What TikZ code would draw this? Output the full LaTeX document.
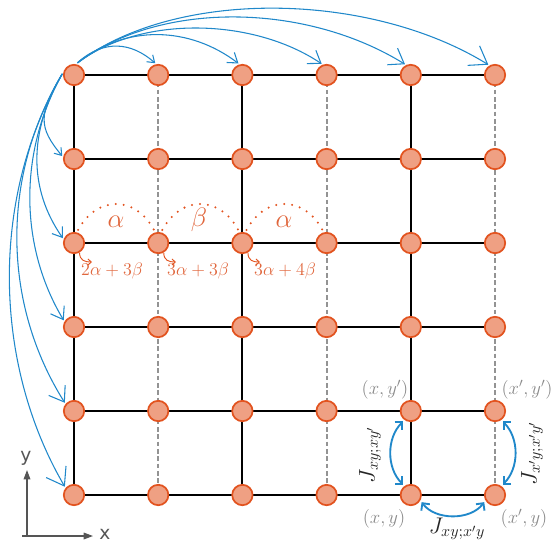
\RequirePackage{fix-cm}
\documentclass[tikz,border=0pt]{standalone}
\usepackage{fontspec}
\newfontfamily\axfont{DejaVu Sans}
\usetikzlibrary{arrows.meta,backgrounds}
\definecolor{nfill}{HTML}{EFA083}
\definecolor{ndraw}{HTML}{E2531F}
\definecolor{arcblue}{HTML}{2088CA}
\definecolor{dgray}{HTML}{939393}
\definecolor{lgray}{HTML}{8A8A8A}
\definecolor{otext}{HTML}{E0663C}
\definecolor{axgray}{HTML}{555555}
\begin{document}
\begin{tikzpicture}[x=0.75pt,y=-0.75pt,
  site/.style={circle, fill=nfill, draw=ndraw, line width=1.3pt, minimum size=15.3pt, inner sep=0pt},
  bond/.style={line width=1.5pt, black},
  dbond/.style={line width=1.6pt, dgray, dash pattern=on 3.5pt off 2pt},
  lr/.style={arcblue, line width=0.8pt, shorten <=1.5pt, shorten >=1pt},
  dotarc/.style={ndraw, line width=1.7pt, line cap=round, dash pattern=on 0pt off 6pt, shorten <=2pt, shorten >=2pt},
  smarr/.style={ndraw, line width=0.7pt, -{Straight Barb[length=2.5pt,width=4.5pt]}},
  ftext/.style={text=otext, font=\fontsize{13.5}{13.5}\selectfont, inner sep=0pt},
  gtext/.style={text=otext, font=\fontsize{20}{20}\selectfont, inner sep=0pt},
  lab/.style={text=lgray, font=\fontsize{14}{14}\selectfont, inner sep=0pt},
  jl/.style={text=black!85, font=\fontsize{17}{17}\selectfont, inner sep=0pt},
  dbl/.style={arcblue, line width=1.4pt, {Straight Barb[length=4pt,width=8pt]}-{Straight Barb[length=4pt,width=8pt]}, shorten <=1.5pt, shorten >=1.5pt},
  axis/.style={axgray, line width=0.9pt, -{Triangle[length=7pt,width=5pt]}},
  axlab/.style={text=axgray, font=\axfont\fontsize{14}{14}\selectfont, inner sep=0pt}
]
\useasboundingbox (0,0) rectangle (559,542);

% sites
\foreach \i in {0,...,5}{
  \foreach \j in {0,...,5}{
    \node[site] (n\i\j) at ({74+84.2*\i},{75+84*\j}) {};
  }
}

% lattice bonds
\begin{scope}[on background layer]
  \foreach \j in {0,...,5} \draw[bond] (n0\j.center) -- (n5\j.center);
  \foreach \i in {0,2,4} \draw[bond] (n\i0.center) -- (n\i5.center);
  \foreach \i in {1,3,5} \draw[dbond] (n\i0.center) -- (n\i5.center);
\end{scope}

% long range arcs along the top row
\draw[lr,-{Straight Barb[length=4.9pt,width=6.9pt]}] (n00.80) .. controls +(28,-25) and +(-25,-22) .. (n10.100);
\draw[lr,-{Straight Barb[length=6.8pt,width=9.5pt]}] (n00.80) .. controls +(50,-40) and +(-50,-38) .. (n20.105);
\draw[lr,-{Straight Barb[length=8.6pt,width=12pt]}] (n00.80) .. controls +(65,-49) and +(-70,-47) .. (n30.110);
\draw[lr,-{Straight Barb[length=10.4pt,width=14.6pt]}] (n00.80) .. controls +(85,-64) and +(-100,-62) .. (n40.115);
\draw[lr,-{Straight Barb[length=12.3pt,width=17.2pt]}] (n00.80) .. controls +(100,-76) and +(-120,-74) .. (n50.120);

% long range arcs along the left column
\draw[lr,-{Straight Barb[length=4.9pt,width=6.9pt]}] (n00.165) .. controls +(-25,42) and +(-25,-30) .. (n01.170);
\draw[lr,-{Straight Barb[length=6.8pt,width=9.5pt]}] (n00.165) .. controls +(-35,60) and +(-35,-50) .. (n02.160);
\draw[lr,-{Straight Barb[length=8.6pt,width=12pt]}] (n00.165) .. controls +(-45,80) and +(-45,-75) .. (n03.150);
\draw[lr,-{Straight Barb[length=10.4pt,width=14.6pt]}] (n00.165) .. controls +(-63,105) and +(-63,-100) .. (n04.140);
\draw[lr,-{Straight Barb[length=12.3pt,width=17.2pt]}] (n00.165) .. controls +(-73,125) and +(-73,-125) .. (n05.140);

% dotted arcs with couplings
\draw[dotarc] (n02.75) .. controls +(20,-37) and +(-20,-37) .. (n12.105);
\draw[dotarc] (n12.75) .. controls +(20,-37) and +(-20,-37) .. (n22.105);
\draw[dotarc] (n22.75) .. controls +(20,-37) and +(-20,-37) .. (n32.105);
\node[gtext] (ga) at (116,222) {$\alpha$};
\node[gtext] (gb) at (199,220) {$\beta$};
\node[gtext] (gc) at (284,222) {$\alpha$};

% small arrows and sums
\coordinate (e0) at (92,262);
\coordinate (e1) at (176,262);
\coordinate (e2) at (260,262);
\draw[smarr] (n02.-60) .. controls +(0,8) and +(-7,0) .. (e0);
\draw[smarr] (n12.-60) .. controls +(0,8) and +(-7,0) .. (e1);
\draw[smarr] (n22.-60) .. controls +(0,8) and +(-7,0) .. (e2);
\node[ftext] (f0) at (112,271) {$2\alpha+3\beta$};
\node[ftext] (f1) at (198,271) {$3\alpha+3\beta$};
\node[ftext] (f2) at (285,271) {$3\alpha+4\beta$};

% plaquette labels
\node[lab] (l1) at (385,390) {$(x,y')$};
\node[lab] (l2) at (527,390) {$(x',y')$};
\node[lab] (l3) at (384,519) {$(x,y)$};
\node[lab] (l4) at (524,519) {$(x',y)$};

% couplings on the plaquette
\draw[dbl] (n44.235) .. controls +(-18,18) and +(-18,-18) .. (n45.125);
\draw[dbl] (n54.-55) .. controls +(18,18) and +(18,-18) .. (n55.55);
\draw[dbl] (n45.-30) .. controls +(15,20) and +(-15,20) .. (n55.-150);
\node[jl] (jb) at (457,529) {$J_{xy;x'y}$};
\node[jl, rotate=90] (jlft) at (370,455) {$J_{xy;xy'}$};
\node[jl, rotate=90] (jrt) at (532,454) {$J_{x'y;x'y'}$};

% axes
\coordinate (o) at (27,536);
\coordinate (xo) at (22,536);
\coordinate (xa) at (93,536);
\coordinate (ya) at (27,470);
\draw[axis] (xo) -- (xa);
\draw[axis] (o) -- (ya);
\node[axlab] (xl) at (105,534) {x};
\node[axlab] (yl) at (26,458) {y};
\end{tikzpicture}
\end{document}
